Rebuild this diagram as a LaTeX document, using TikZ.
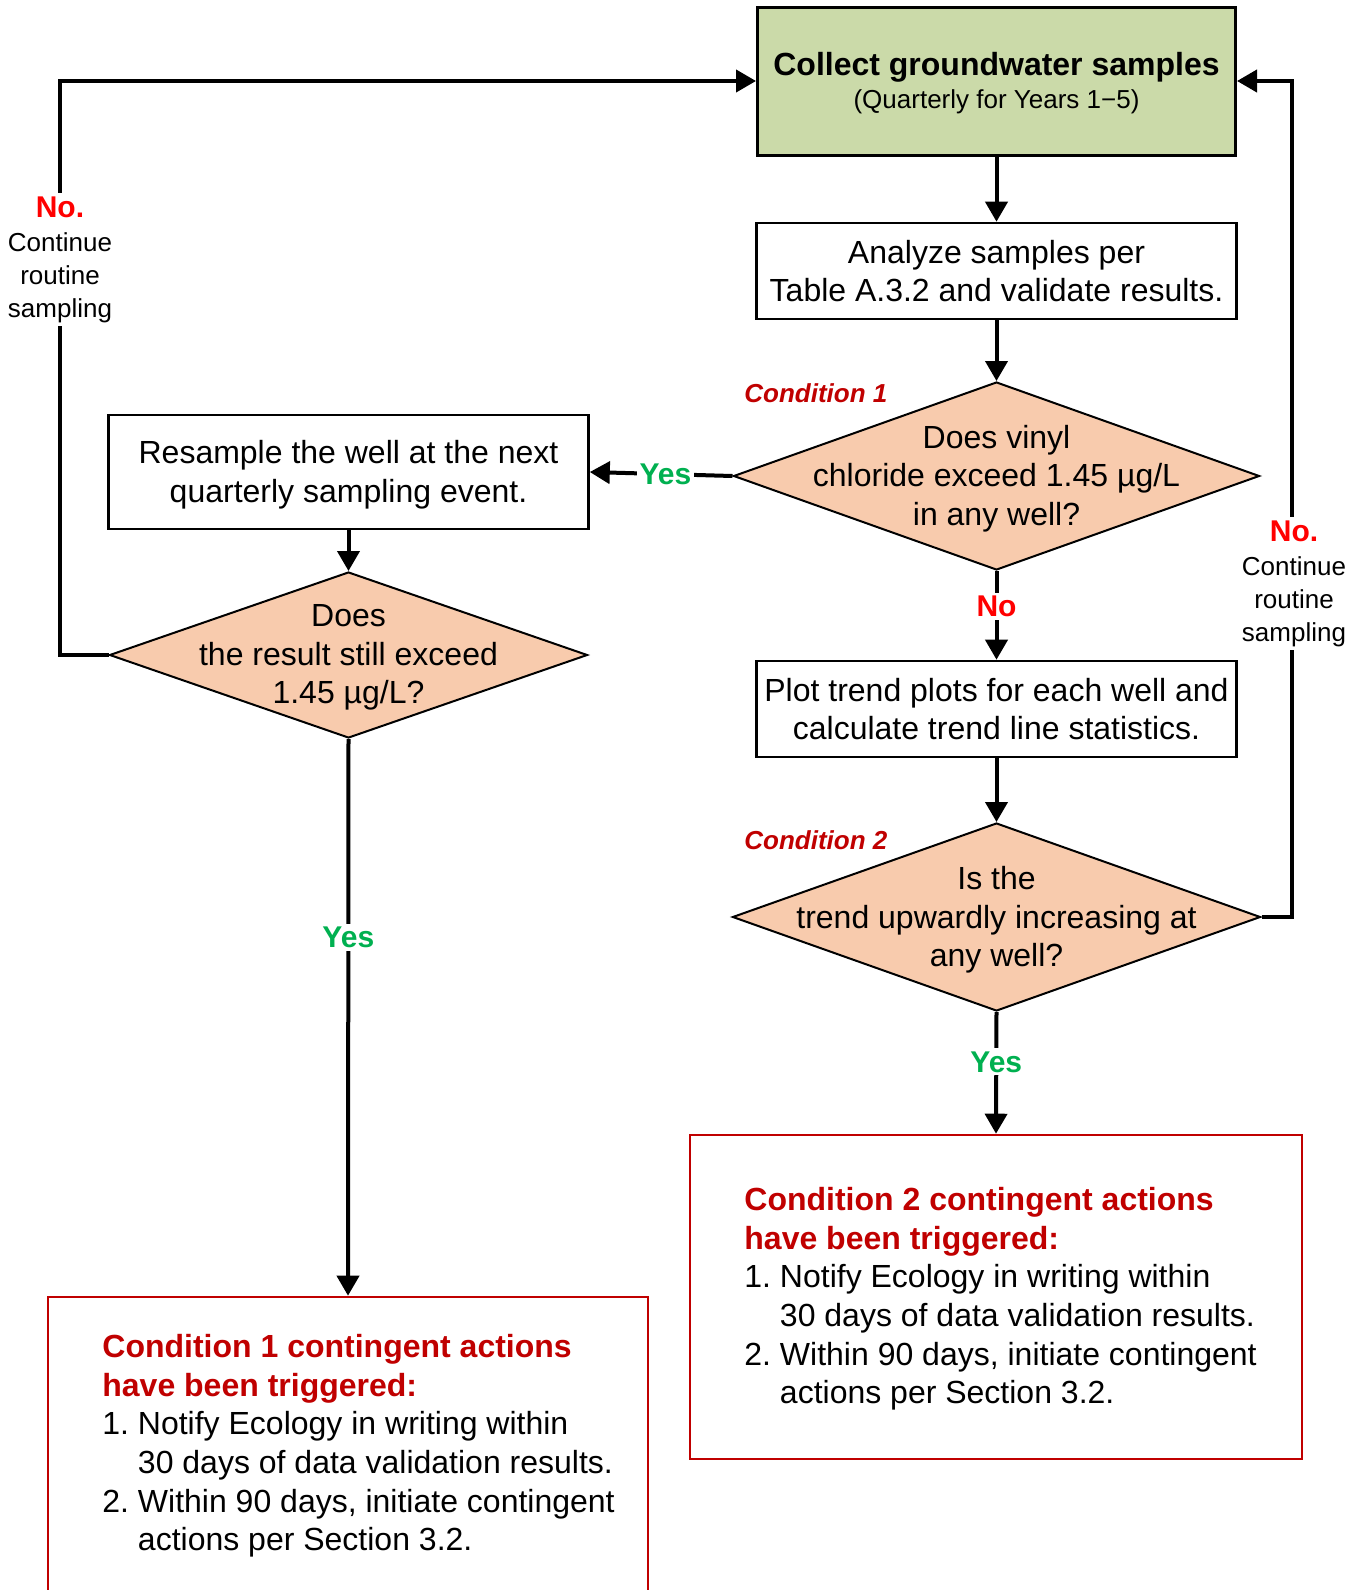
\documentclass[tikz,border=0pt]{standalone}
\usepackage{fontspec}
\setmainfont{Liberation Sans}
\usetikzlibrary{shapes.geometric,arrows.meta}
\definecolor{boxgreen}{HTML}{CBDAA9}
\definecolor{peach}{HTML}{F8CBAD}
\definecolor{cred}{HTML}{C00000}
\definecolor{nored}{HTML}{FF0000}
\definecolor{yesgreen}{HTML}{00B050}
\newcommand\bodyf{\fontsize{16}{19.3}\selectfont\frenchspacing}
\newcommand\smallf{\fontsize{13}{16.3}\selectfont}
\newcommand\labf{\fontsize{15}{17.5}\selectfont\bfseries}
\begin{document}
\frenchspacing
\begin{tikzpicture}[x=0.5pt,y=-0.5pt,
 procbox/.style={draw=black,line width=1.3pt,rectangle,minimum width=240pt,minimum height=48pt,inner sep=0pt,align=center,font=\bodyf},
 dia/.style={draw=black,line width=1pt,diamond,fill=peach,inner sep=0pt},
 diatext/.style={align=center,font=\bodyf,inner sep=0pt},
 condbox/.style={draw=cred,line width=1.3pt,rectangle,inner sep=0pt},
 condtext/.style={align=left,font=\bodyf,inner sep=0pt,anchor=west},
 arr/.style={line width=2pt,-{Triangle[length=10pt,width=11pt]}},
 yeslab/.style={fill=white,inner sep=1.5pt,font=\labf,text=yesgreen},
 nolab/.style={fill=white,inner sep=1.5pt,font=\labf,text=nored},
 condlab/.style={font=\fontsize{13}{15}\selectfont\bfseries\itshape,text=cred,anchor=west,inner sep=0pt},
 sidelab/.style={fill=white,inner sep=2pt,align=center,font=\smallf}
]
\useasboundingbox (0,0) rectangle (1367,1590);

% process boxes
\node[procbox,fill=boxgreen,minimum width=239pt,minimum height=74pt,line width=1.5pt] (top) at (996.5,81) {};
\node[align=center,font=\bodyf,inner sep=0pt] (topt) at (996.5,83)
  {{\bfseries Collect groundwater samples}\\[-3pt]{\smallf (Quarterly for Years 1−5)}};
\node[procbox] (b2) at (996.5,271) {Analyze samples per\\Table A.3.2 and validate results.};
\node[procbox] (b3) at (996.5,709) {Plot trend plots for each well and\\calculate trend line statistics.};
\node[procbox,minimum height=57pt] (rs) at (348.5,472) {};
\node[align=center,font=\bodyf,inner sep=0pt] (rst) at (348.5,474.5) {Resample the well at the next\\quarterly sampling event.};

% decisions
\node[dia,minimum width=263pt,minimum height=94pt] (d1) at (996.5,476) {};
\node[diatext] (d1t) at (996.5,478.5) {Does vinyl\\chloride exceed 1.45 µg/L\\in any well?};
\node[dia,minimum width=239pt,minimum height=83pt] (d2) at (348.5,655) {};
\node[diatext] (d2t) at (348.5,657.5) {Does\\the result still exceed\\1.45 µg/L?};
\node[dia,minimum width=264pt,minimum height=94pt] (d3) at (996.5,917) {};
\node[diatext] (d3t) at (996.5,920) {Is the\\trend upwardly increasing at\\any well?};

\node[condlab] (c1l) at (744,393) {Condition 1};
\node[condlab] (c2l) at (744,840) {Condition 2};

% contingent action boxes
\node[condbox,minimum width=306pt,minimum height=162pt] (cb2) at (996,1297) {};
\node[condtext] (cb2t) at (744,1299)
 {{\color{cred}\bfseries Condition 2 contingent actions}\\
  {\color{cred}\bfseries have been triggered:}\\
  1. Notify Ecology in writing within\\
  \hphantom{1.\ }30 days of data validation results.\\
  2. Within 90 days, initiate contingent\\
  \hphantom{2.\ }actions per Section 3.2.};
\node[condbox,minimum width=300pt,minimum height=149pt] (cb1) at (348,1446) {};
\node[condtext] (cb1t) at (102,1446)
 {{\color{cred}\bfseries Condition 1 contingent actions}\\
  {\color{cred}\bfseries have been triggered:}\\
  1. Notify Ecology in writing within\\
  \hphantom{1.\ }30 days of data validation results.\\
  2. Within 90 days, initiate contingent\\
  \hphantom{2.\ }actions per Section 3.2.};

% connectors
\draw[arr] (top.south) -- (b2.north);
\draw[arr] (b2.south) -- (d1.north);
\draw[arr] (d1.west) -- node[yeslab,pos=0.47]{Yes} (rs.east);
\draw[arr] (rs.south) -- (d2.north);
\coordinate (lc) at (60,81);
\draw[arr] (d2.west) -| (lc) -- (top.west);
\node[sidelab] (nl) at (60,259.5) {{\labf\color{nored}No.}\\[1pt]Continue\\routine\\sampling};
\draw[arr] (d1.south) -- node[nolab,pos=0.4]{No} (b3.north);
\draw[arr] (b3.south) -- (d3.north);
\coordinate (rc) at (1292,81);
\draw[arr] (d3.east) -| (rc) -- (top.east);
\node[sidelab] (nr) at (1294,583.5) {{\labf\color{nored}No.}\\[1pt]Continue\\routine\\sampling};
\draw[arr] (d3.south) -- node[yeslab,pos=0.41]{Yes} (cb2.north);
\draw[arr] (d2.south) -- node[yeslab,pos=0.356]{Yes} (cb1.north);
\end{tikzpicture}
\end{document}
